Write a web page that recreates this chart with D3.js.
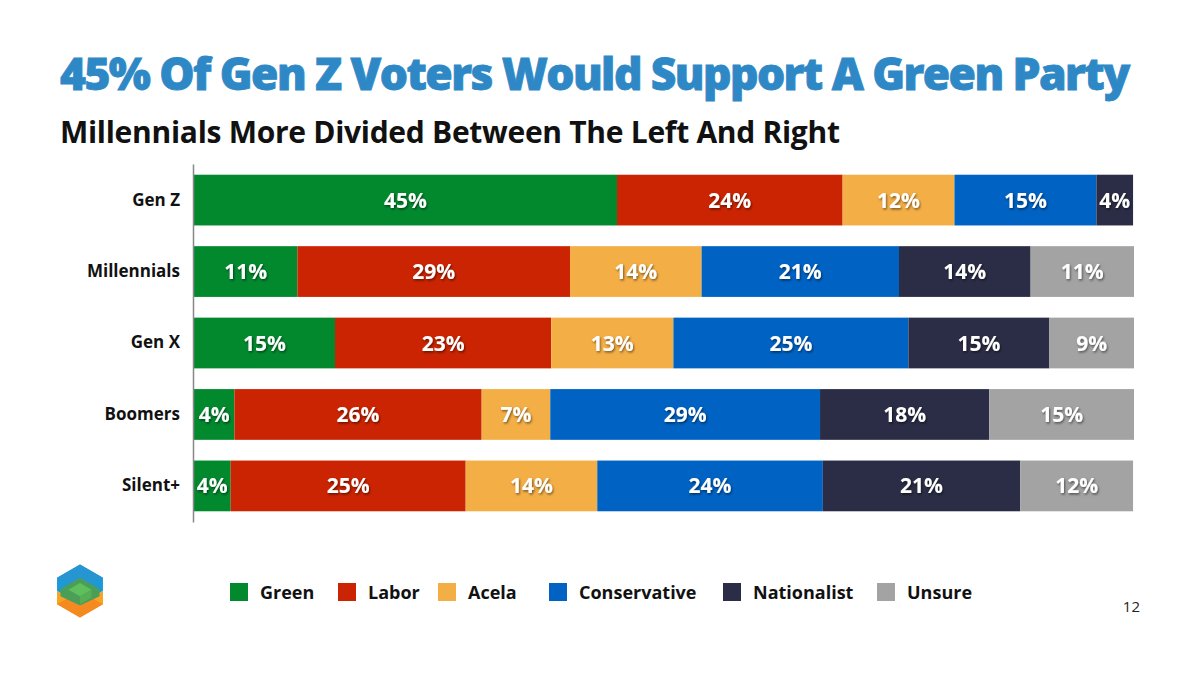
<!DOCTYPE html>
<html><head><meta charset="utf-8">
<script src="https://cdn.jsdelivr.net/npm/d3@7"></script>
<style>
html,body{margin:0;padding:0;background:#fff;}
svg{display:block;}
</style></head>
<body>
<svg id="chart" width="1200" height="675"></svg>
<script>
const categories = ["Gen Z","Millennials","Gen X","Boomers","Silent+"];
const parties = ["Green","Labor","Acela","Conservative","Nationalist","Unsure"];
const colors = ["#02892e","#cb2402","#f4ae46","#0062c3","#2a2d45","#a3a3a3"];
const green = [45.0, 11.0, 15.0, 4.3, 3.9];
const labor = [24.0, 29.0, 23.0, 26.3, 25.0];
const acela = [11.9, 14.0, 13.0, 7.3, 14.0];
const conservative = [15.1, 21.0, 25.0, 28.7, 24.0];
const nationalist = [3.9, 14.0, 15.0, 18.0, 21.0];
const unsure = [0, 11.0, 9.0, 15.4, 12.0];
const series = [green, labor, acela, conservative, nationalist, unsure];

const font = "'Open Sans', 'Noto Sans', sans-serif";
const svg = d3.select("#chart");

const defs = svg.append("defs");
const f = defs.append("filter").attr("id","shadow").attr("x","-20%").attr("y","-20%").attr("width","140%").attr("height","140%");
f.append("feDropShadow").attr("dx",1).attr("dy",1.5).attr("stdDeviation",0.9).attr("flood-color","#000").attr("flood-opacity",0.5);

function fitText(sel, target, minSpacing){
  const n = sel.text().length;
  sel.attr("letter-spacing", 0);
  let len = sel.node().getComputedTextLength();
  let sp = (target - len) / (n - 1);
  if (sp < minSpacing) {
    sp = minSpacing;
    sel.attr("letter-spacing", sp);
    len = sel.node().getComputedTextLength();
    const fs = parseFloat(sel.attr("font-size"));
    sel.attr("font-size", fs * target / len);
    sel.attr("letter-spacing", sp);
  } else {
    sel.attr("letter-spacing", sp);
  }
}

// Titles
const title = svg.append("text").attr("x",60).attr("y",90)
  .attr("font-family",font).attr("font-weight",800).attr("font-size",45)
  .attr("fill","#2e88c6").attr("stroke","#2e88c6").attr("stroke-width",0.8)
  .text("45% Of Gen Z Voters Would Support A Green Party");
fitText(title, 1070, -1.6);
const subtitle = svg.append("text").attr("x",60).attr("y",143)
  .attr("font-family",font).attr("font-weight",700).attr("font-size",30)
  .attr("fill","#111")
  .text("Millennials More Divided Between The Left And Right");
fitText(subtitle, 780, -1.2);

// Data table
const rows = categories.map((c,i)=>{
  const r = {cat:c};
  parties.forEach((p,j)=>r[p]=series[j][i]);
  return r;
});
const stacked = d3.stack().keys(parties)(rows);

const x = d3.scaleLinear().domain([0,100]).range([194,1134]);
const y = d3.scaleBand().domain(categories).range([164,522]).paddingInner(0.29).paddingOuter(0.15);
const color = d3.scaleOrdinal().domain(parties).range(colors);

const g = svg.append("g");
stacked.forEach(layer=>{
  const lg = g.append("g");
  const segs = layer.filter(d=>d[1]-d[0]>0);
  lg.selectAll("rect").data(segs).join("rect")
    .attr("x",d=>x(d[0])).attr("width",d=>x(d[1])-x(d[0]))
    .attr("y",d=>y(d.data.cat)).attr("height",y.bandwidth())
    .attr("fill",color(layer.key));
  lg.selectAll("text").data(segs).join("text")
    .attr("x",d=>(x(d[0])+x(d[1]))/2).attr("y",d=>y(d.data.cat)+y.bandwidth()/2+7.5)
    .attr("text-anchor","middle").attr("font-family",font).attr("font-weight",700)
    .attr("font-size",21).attr("fill","#fff").attr("filter","url(#shadow)")
    .text(d=>Math.round(d[1]-d[0])+"%");
});

// Y axis
const yAxis = d3.axisLeft(y).tickSize(0).tickPadding(13);
const ag = svg.append("g").attr("transform","translate(193,0)").call(yAxis);
ag.select(".domain").attr("stroke","#888").attr("stroke-width",1.5);
ag.selectAll("text").attr("font-family",font).attr("font-weight",700).attr("font-size",17).attr("fill","#111");

// Legend
const legendX = [230,338,438,549,723,877];
const leg = svg.append("g");
parties.forEach((p,i)=>{
  leg.append("rect").attr("x",legendX[i]).attr("y",583).attr("width",18).attr("height",18).attr("fill",color(p));
  leg.append("text").attr("x",legendX[i]+30).attr("y",599).attr("font-family",font).attr("font-weight",700)
    .attr("font-size",18).attr("fill","#111").text(p);
});

// Page number
svg.append("text").attr("x",1140).attr("y",612).attr("text-anchor","end").attr("font-family",font)
  .attr("font-size",15).attr("fill","#222").text("12");

// Logo (hexagonal cube)
const r = 26.5, w = r*Math.sqrt(3)/2;
const logo = svg.append("g").attr("transform","translate(80,591)");
const L = d3.line();
logo.append("path").attr("d",L([[0,-r],[w,-r/2],[w,0],[0,r/2],[-w,0],[-w,-r/2]])+"Z").attr("fill","#1a9ad6");
logo.append("path").attr("d",L([[0,-r],[w,-r/2],[0,0],[-w,-r/2]])+"Z").attr("fill","#2596d2");
logo.append("path").attr("d",L([[-w,0],[0,r/2],[w,0],[w,r/2],[0,r],[-w,r/2]])+"Z").attr("fill","#f7a323");
logo.append("path").attr("d",L([[0,r/2],[w*0.5,r*0.25],[w,r/2],[0,r],[-w,r/2],[-w*0.5,r*0.25]])+"Z").attr("fill","#f58a20");
logo.append("path").attr("d",L([[0,-r/2],[w*0.85,-r*0.08],[w*0.85,r*0.2],[0,r*0.55],[-w*0.85,r*0.2],[-w*0.85,-r*0.08]])+"Z").attr("fill","#4b9e57");
logo.append("path").attr("d",L([[0,-r*0.3],[w*0.5,-r*0.05],[0,r*0.2],[-w*0.5,-r*0.05]])+"Z").attr("fill","#5fbf5c");
logo.append("path").attr("d",L([[0,r*0.2],[w*0.5,-r*0.05],[w*0.5,r*0.25],[0,r*0.5]])+"Z").attr("fill","#56ae55");
</script>
</body></html>
